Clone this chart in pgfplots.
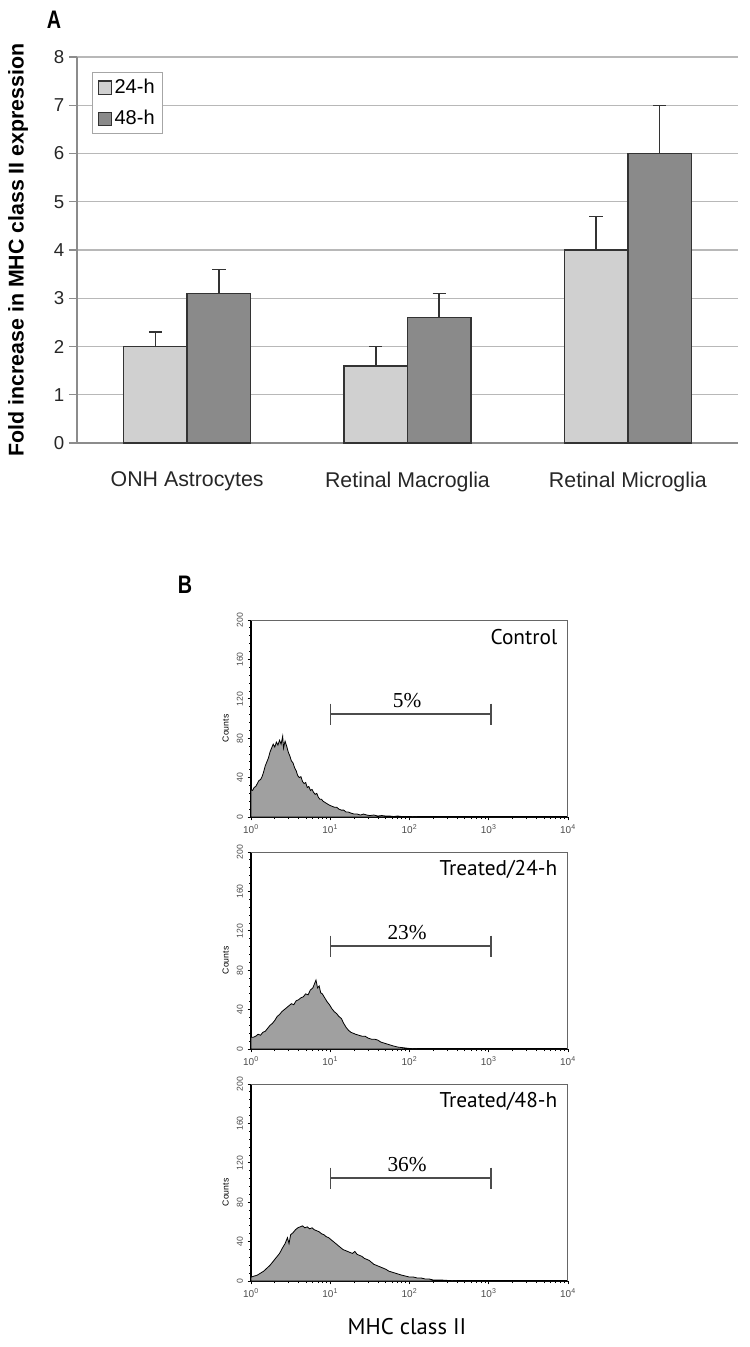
\documentclass[border=0pt]{standalone}
\usepackage{fontspec}
\setmainfont{Liberation Sans}
\newfontfamily\condb{Liberation Sans}[FakeStretch=0.78]
\newfontfamily\pts{PT Sans}
\newfontfamily\tms{Liberation Serif}
\usepackage{pgfplots}
\usepackage{pgfplotstable}
\pgfplotsset{compat=1.18}
\definecolor{barlight}{RGB}{208,208,208}
\definecolor{bardark}{RGB}{138,138,138}
\definecolor{histfill}{RGB}{160,160,160}

\pgfplotstableread{
lx c
0.00 28
0.02 27
0.04 30
0.06 31
0.08 34
0.10 37
0.12 38
0.14 41
0.16 46
0.18 52
0.20 56
0.22 60
0.24 66
0.26 70
0.28 74
0.30 71
0.32 76
0.34 73
0.36 78
0.38 74
0.40 82
0.41 70
0.43 77
0.45 72
0.47 66
0.49 62
0.51 57
0.53 55
0.55 50
0.57 47
0.59 42
0.61 40
0.63 41
0.65 36
0.67 34
0.69 35
0.71 30
0.73 31
0.75 27
0.77 28
0.79 25
0.81 23
0.83 24
0.85 20
0.87 18
0.89 18
0.91 16
0.93 15
0.95 14
0.97 13
0.99 12
1.02 11
1.05 10
1.08 10
1.11 8
1.14 7
1.17 7
1.20 5
1.23 5
1.26 4
1.30 3
1.34 3
1.38 2
1.42 3
1.46 2
1.50 1.5
1.55 2
1.60 1
1.65 1.5
1.70 1
1.75 1
1.80 0.5
1.85 1
1.90 0.5
2.00 0.5
2.10 0
4.00 0
}\histA

\pgfplotstableread{
lx c
0.00 12
0.03 12
0.06 13
0.09 15
0.12 14
0.15 17
0.18 18
0.21 21
0.24 24
0.27 26
0.30 29
0.33 33
0.36 35
0.39 38
0.42 40
0.45 42
0.48 44
0.51 46
0.54 45
0.57 49
0.60 50
0.63 52
0.66 53
0.69 56
0.72 55
0.75 60
0.78 62
0.80 66
0.82 70
0.84 62
0.86 64
0.88 57
0.90 56
0.93 52
0.96 48
0.99 45
1.02 41
1.05 38
1.08 36
1.11 33
1.14 31
1.17 26
1.20 22
1.23 19
1.26 17
1.29 16
1.32 15
1.36 14
1.40 13
1.44 13
1.48 11
1.52 10
1.56 10
1.60 9
1.64 7
1.68 6
1.72 5
1.76 4
1.80 3
1.85 2
1.90 1.5
1.95 1
2.00 0.5
2.10 0
4.00 0
}\histB

\pgfplotstableread{
lx c
0.00 4
0.04 5
0.08 6
0.12 8
0.16 10
0.20 13
0.24 16
0.28 20
0.32 24
0.36 28
0.40 34
0.43 38
0.46 44
0.48 38
0.50 47
0.53 49
0.56 52
0.59 54
0.62 55
0.65 56
0.68 54
0.71 55
0.74 53
0.77 54
0.80 52
0.83 51
0.86 50
0.89 48
0.92 47
0.95 45
0.98 44
1.01 42
1.04 40
1.07 38
1.10 36
1.13 34
1.16 32
1.19 31
1.22 30
1.25 29
1.28 28
1.31 30
1.34 27
1.37 26
1.40 25
1.43 23
1.46 22
1.49 21
1.52 19
1.55 17
1.58 16
1.61 15
1.64 14
1.67 13
1.70 12
1.74 10
1.78 9
1.82 8
1.86 7
1.90 6
1.95 5
2.00 4
2.05 4
2.10 3
2.15 3
2.20 2
2.25 2
2.30 1
2.40 1
2.50 0.5
2.60 0
4.00 0
}\histC

\pgfplotsset{
  noarrows/.style={
    every outer x axis line/.append style={-},
    every outer y axis line/.append style={-},
    every inner x axis line/.append style={-},
    every inner y axis line/.append style={-}},
  sqlegend/.style={legend image code/.code={\draw[##1,line width=0.8pt] (0pt,-4.9pt) rectangle (9.75pt,4.9pt);}},
  hist/.style={
    scale only axis, width=237.75pt, height=147.75pt, anchor=south west,
    xmin=0, xmax=4, ymin=0, ymax=200,
    axis x line*=bottom, axis y line*=left, noarrows,
    axis line style={line width=1.3pt, black},
    xtick={0,1,2,3,4},
    xticklabels={10\textsuperscript{0},10\textsuperscript{1},10\textsuperscript{2},10\textsuperscript{3},10\textsuperscript{4}},
    minor xtick={0.301,0.477,0.602,0.699,0.778,0.845,0.903,0.954,
                 1.301,1.477,1.602,1.699,1.778,1.845,1.903,1.954,
                 2.301,2.477,2.602,2.699,2.778,2.845,2.903,2.954,
                 3.301,3.477,3.602,3.699,3.778,3.845,3.903,3.954},
    ytick={0,40,80,120,160,200}, minor y tick num=4,
    tick align=outside, major tick length=2.5pt, minor tick length=1.5pt,
    tick style={black, line width=0.6pt},
    /pgf/number format/assume math mode=true,
    xticklabel style={font=\fontsize{7.5}{7.5}\selectfont, text=black!70},
    yticklabel style={rotate=90, anchor=south, font=\fontsize{6.5}{6.5}\selectfont, text=black!70},
    ylabel={Counts},
    ylabel style={font=\fontsize{6.5}{6.5}\selectfont, at={(axis description cs:-0.08,0.45)}, anchor=center},
  },
  histplot/.style={fill=histfill, draw=black, line width=0.6pt},
  gate/.style={black!70, line width=1.1pt, mark=|, mark size=7.9pt, mark options={line width=1.1pt}},
  barplot/.style={ybar, bar width=0.288, bar shift=0pt, draw=black!80, line width=1.1pt, sqlegend,
    error bars/y dir=plus, error bars/y explicit,
    error bars/error bar style={line width=1.1pt, black!80},
    error bars/error mark options={rotate=90, black!80, line width=1.1pt, mark size=5pt}},
}

\begin{document}
\begin{tikzpicture}
\path[use as bounding box] (0,0) rectangle (562.5pt,-1010.25pt);

\node[font=\condb\bfseries\fontsize{19}{19}\selectfont] at (40.5pt,-15pt) {A};
\node[font=\condb\bfseries\fontsize{19}{19}\selectfont] at (138.75pt,-438.75pt) {B};

\begin{axis}[
  at={(57.75pt,-332.25pt)}, anchor=south west, scale only axis,
  width=495.75pt, height=289.5pt,
  xmin=-0.5, xmax=2.5, ymin=0, ymax=8,
  axis x line*=bottom, axis y line*=left, noarrows,
  axis line style={draw=black!45, line width=1pt},
  ytick={0,1,...,8},
  ymajorgrids, grid style={draw=black!28, line width=0.9pt},
  tick style={draw=black!45, line width=0.9pt},
  tick align=outside, major tick length=6pt,
  xtick={0,1,2},
  xticklabels={ONH Astrocytes, Retinal Macroglia, Retinal Microglia},
  major x tick style={draw=none},
  extra x ticks={-0.5,0.5,1.5,2.5}, extra x tick labels={},
  extra x tick style={major tick length=4pt, tick style={draw=black!45}},
  /pgf/number format/assume math mode=true,
  yticklabel style={font=\fontsize{14}{14}\selectfont, text=black!85},
  xticklabel style={font=\fontsize{16}{16}\selectfont, text=black!85, yshift=-12pt},
  ylabel={Fold increase in MHC class II expression},
  ylabel style={font=\bfseries\fontsize{16}{16}\selectfont, at={(axis description cs:-0.089,0.5)}, anchor=center},
  legend style={at={(0.0227,0.961)}, anchor=north west, draw=black!35, line width=0.8pt,
    font=\fontsize{15}{15}\selectfont, inner xsep=4pt, inner ysep=3pt, row sep=7pt},
  legend cell align=left,
]
\addplot[barplot, fill=barlight]
  coordinates {(-0.144,2.0) +- (0,0.3) (0.856,1.6) +- (0,0.4) (1.856,4.0) +- (0,0.7)};
\addlegendentry{24-h}
\addplot[barplot, fill=bardark]
  coordinates {(0.144,3.1) +- (0,0.5) (1.144,2.6) +- (0,0.5) (2.144,6.0) +- (0,1.0)};
\addlegendentry{48-h}
\end{axis}

% Control
\begin{axis}[hist, at={(188.25pt,-612.75pt)}]
\addplot[histplot] table[x=lx,y=c] {\histA} \closedcycle;
\addplot[gate] coordinates {(1,104.5) (3.03,104.5)};
\node[font=\tms\fontsize{16}{16}\selectfont] at (axis cs:1.97,118) {5\%};
\node[font=\pts\fontsize{16}{16}\selectfont, anchor=east] at (rel axis cs:0.981,0.914) {Control};
\draw[black!60, line width=0.8pt] (rel axis cs:0,1) -- (rel axis cs:1,1) -- (rel axis cs:1,0);
\end{axis}

% Treated/24-h
\begin{axis}[hist, at={(188.25pt,-786.75pt)}]
\addplot[histplot] table[x=lx,y=c] {\histB} \closedcycle;
\addplot[gate] coordinates {(1,104.5) (3.03,104.5)};
\node[font=\tms\fontsize{16}{16}\selectfont] at (axis cs:1.97,118) {23\%};
\node[font=\pts\fontsize{16}{16}\selectfont, anchor=east] at (rel axis cs:0.981,0.914) {Treated/24-h};
\draw[black!60, line width=0.8pt] (rel axis cs:0,1) -- (rel axis cs:1,1) -- (rel axis cs:1,0);
\end{axis}

% Treated/48-h
\begin{axis}[hist, at={(188.25pt,-960.75pt)}]
\addplot[histplot] table[x=lx,y=c] {\histC} \closedcycle;
\addplot[gate] coordinates {(1,104.5) (3.03,104.5)};
\node[font=\tms\fontsize{16}{16}\selectfont] at (axis cs:1.97,118) {36\%};
\node[font=\pts\fontsize{16}{16}\selectfont, anchor=east] at (rel axis cs:0.981,0.914) {Treated/48-h};
\draw[black!60, line width=0.8pt] (rel axis cs:0,1) -- (rel axis cs:1,1) -- (rel axis cs:1,0);
\end{axis}

\node[font=\pts\fontsize{17}{17}\selectfont] at (305.25pt,-995.25pt) {MHC class II};
\end{tikzpicture}
\end{document}
